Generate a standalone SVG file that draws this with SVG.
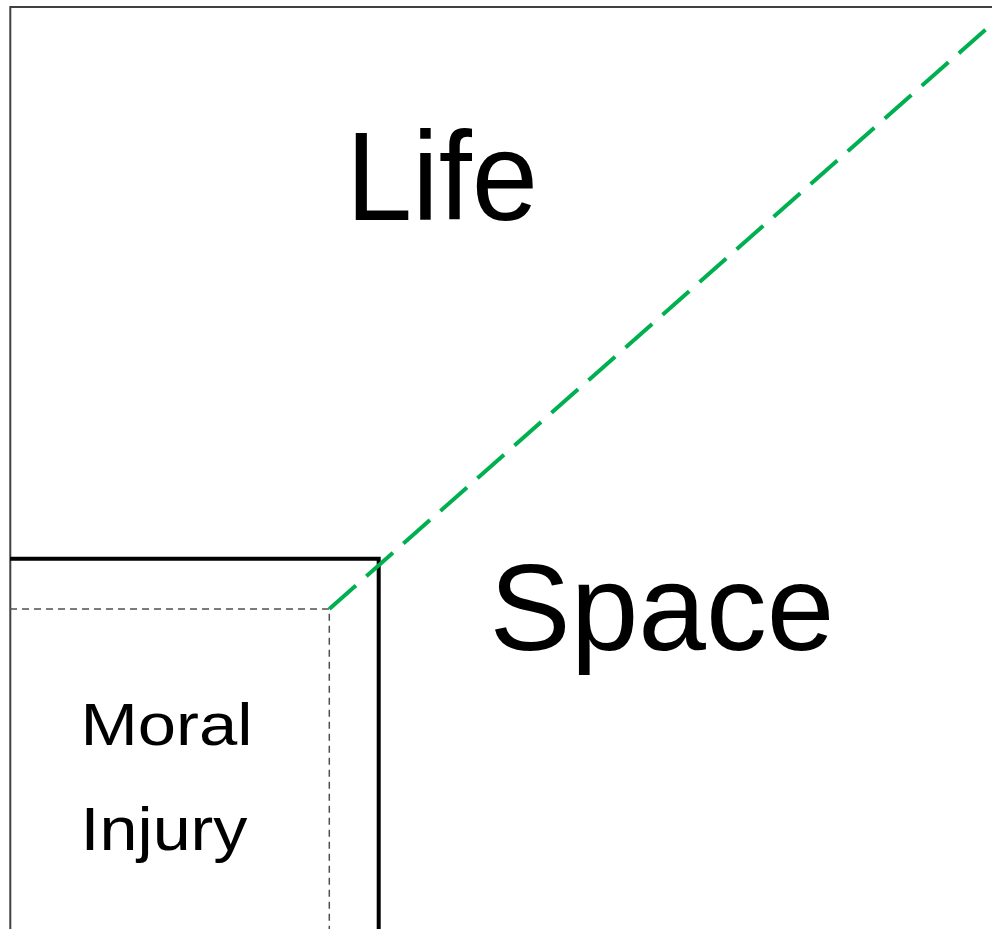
<svg xmlns="http://www.w3.org/2000/svg" width="992" height="929" viewBox="0 0 992 929">
<style>
.frame{fill:none;stroke:#404040;stroke-width:2}
.box{fill:none;stroke:#000;stroke-width:4}
.inner{fill:none;stroke:#505050;stroke-width:1.5;stroke-dasharray:7 5}
.green{fill:none;stroke:#00B050;stroke-width:4;stroke-dasharray:35.5 13.9}
.lbl{font-family:"Liberation Sans",Arial,sans-serif;fill:#000;text-anchor:middle}
</style>
<rect width="992" height="929" fill="#fff"/>
<g id="frame">
<path class="frame" d="M10.3,930 V7 H993"/>
</g>
<g id="life">
<text class="lbl" x="442" y="220" font-size="126" textLength="192" lengthAdjust="spacingAndGlyphs">Life</text>
</g>
<g id="space">
<text class="lbl" x="662" y="650" font-size="123" textLength="345" lengthAdjust="spacingAndGlyphs">Space</text>
</g>
<g id="moral-injury">
<path class="box" d="M10,558.7 H378.7 V932"/>
<path class="inner" d="M10,609 H329.3 V932"/>
<text class="lbl" x="166.5" y="745" font-size="60" textLength="172" lengthAdjust="spacingAndGlyphs">Moral</text>
<text class="lbl" x="164" y="850" font-size="62" textLength="167" lengthAdjust="spacingAndGlyphs">Injury</text>
</g>
<g id="connectors">
<path class="green" d="M329.3,609 L993,23"/>
</g>
</svg>
